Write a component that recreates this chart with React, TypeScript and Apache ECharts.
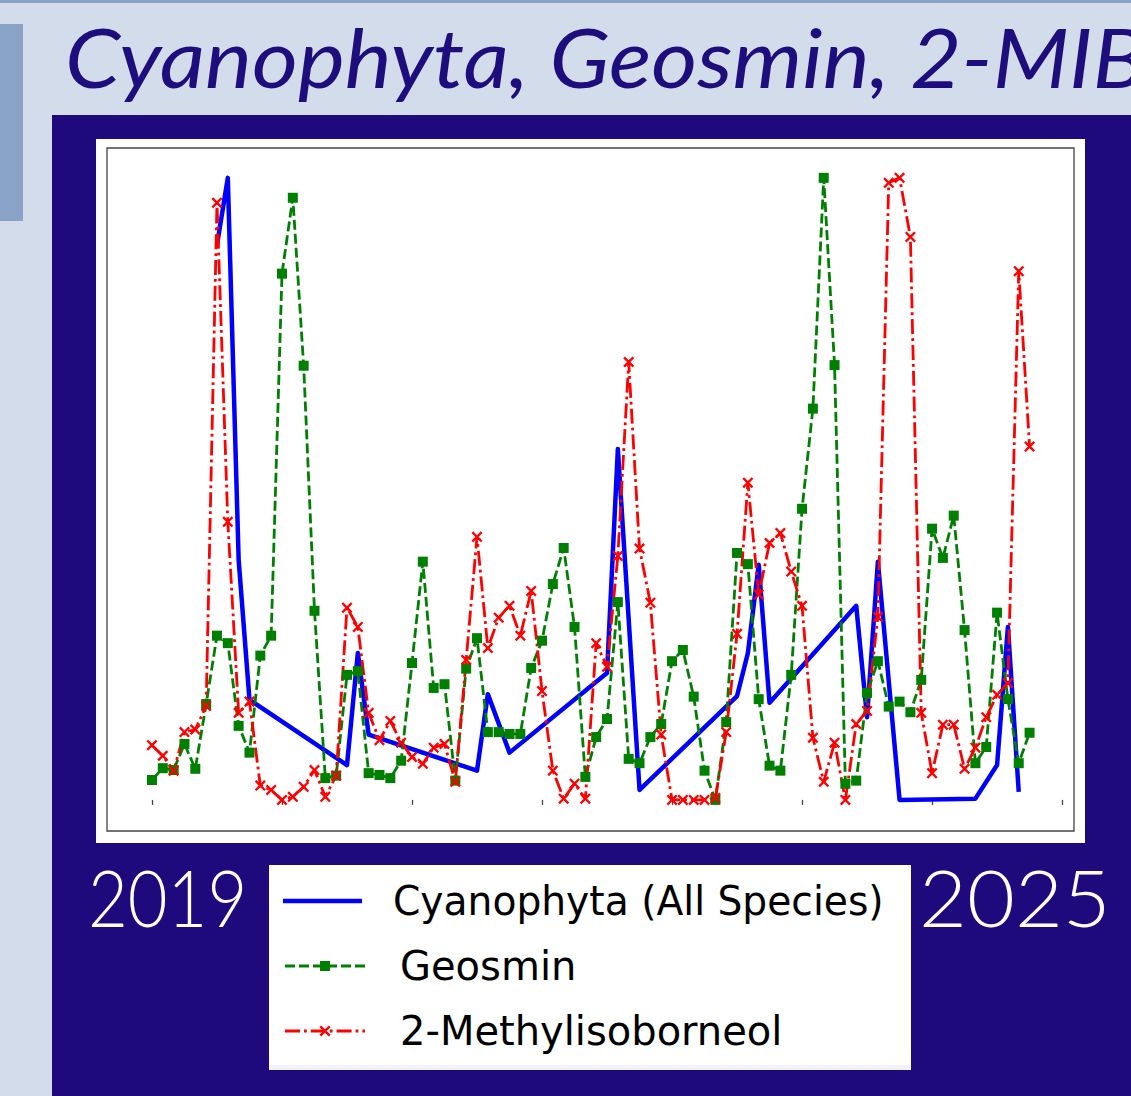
import React, { useEffect, useRef } from "react";
import * as echarts from "echarts";

// x = months since January 2019 (0 = 2019-01)
const MONTHS = [
  0, 1, 2, 3, 4, 5, 6, 7, 8, 9, 10, 11, 12, 13, 14, 15, 16, 17, 18, 19, 20,
  21, 22, 23, 24, 25, 26, 27, 28, 29, 30, 31, 32, 33, 34, 35, 36, 37, 38, 39,
  40, 41, 42, 43, 44, 45, 46, 47, 48, 49, 50, 51, 52, 53, 54, 55, 56, 57, 58,
  59, 60, 61, 62, 63, 64, 65, 66, 67, 68, 69, 70, 71, 72, 73, 74, 75, 76, 77,
  78, 79, 80, 81,
];

// Normalised Geosmin (monthly)
const GEOSMIN = [
  0.032, 0.051, 0.048, 0.09, 0.05, 0.154, 0.264, 0.252, 0.119, 0.076, 0.232,
  0.264, 0.846, 0.968, 0.698, 0.304, 0.035, 0.039, 0.201, 0.207, 0.043, 0.04,
  0.035, 0.063, 0.22, 0.383, 0.18, 0.186, 0.031, 0.211, 0.26, 0.109, 0.109,
  0.106, 0.106, 0.212, 0.256, 0.347, 0.405, 0.278, 0.037, 0.101, 0.13, 0.318,
  0.066, 0.059, 0.101, 0.122, 0.223, 0.241, 0.166, 0.047, 0.0, 0.125, 0.397,
  0.379, 0.162, 0.055, 0.047, 0.201, 0.468, 0.629, 1.0, 0.699, 0.026, 0.031,
  0.172, 0.223, 0.15, 0.158, 0.141, 0.193, 0.436, 0.389, 0.457, 0.273, 0.059,
  0.085, 0.301, 0.162, 0.059, 0.108,
];

// Normalised 2-Methylisoborneol (monthly)
const MIB = [
  0.088, 0.071, 0.047, 0.109, 0.113, 0.151, 0.96, 0.447, 0.14, 0.158, 0.023,
  0.016, 0.0, 0.005, 0.021, 0.048, 0.005, 0.039, 0.309, 0.278, 0.14, 0.096,
  0.127, 0.092, 0.069, 0.058, 0.084, 0.09, 0.029, 0.225, 0.423, 0.244, 0.293,
  0.312, 0.264, 0.336, 0.175, 0.047, 0.002, 0.026, 0.002, 0.252, 0.214, 0.392,
  0.704, 0.404, 0.317, 0.105, 0.0, 0.0, 0.0, 0.0, 0.003, 0.109, 0.267, 0.51,
  0.33, 0.413, 0.429, 0.367, 0.312, 0.1, 0.029, 0.092, 0.0, 0.122, 0.143,
  0.294, 0.992, 1.0, 0.905, 0.14, 0.043, 0.121, 0.121, 0.05, 0.084, 0.133,
  0.169, 0.188, 0.85, 0.568,
];

// Normalised Cyanophyta (All Species), sampled irregularly
const CYANO_MONTHS = [
  6, 7, 8, 9, 18, 19, 20, 30, 31, 33, 42, 43, 45, 54, 55, 56, 57, 65, 66, 67,
  69, 76, 78, 79, 80,
];
const CYANO = [
  0.892, 1.0, 0.386, 0.161, 0.056, 0.236, 0.105, 0.047, 0.17, 0.076, 0.204,
  0.564, 0.016, 0.167, 0.236, 0.378, 0.156, 0.312, 0.133, 0.383, 0.0, 0.002,
  0.056, 0.278, 0.013,
];

const YEAR_TICKS = [0, 12, 24, 36, 48, 60, 72, 84];
const START_YEAR_LABEL = "2019";
const END_YEAR_LABEL = "2025";
const TITLE = "Cyanophyta, Geosmin, 2-MIB";
const LEGEND_NAMES = ["Cyanophyta (All Species)", "Geosmin", "2-Methylisoborneol"];

const X_SYMBOL =
  "path://M1.5,0L5,3.5L8.5,0L10,1.5L6.5,5L10,8.5L8.5,10L5,6.5L1.5,10L0,8.5L3.5,5L0,1.5Z";

function xPoly(cx: number, cy: number, s: number) {
  const p = [
    [1.5, 0], [5, 3.5], [8.5, 0], [10, 1.5], [6.5, 5], [10, 8.5],
    [8.5, 10], [5, 6.5], [1.5, 10], [0, 8.5], [3.5, 5], [0, 1.5],
  ];
  return p.map(([a, b]) => [cx - s / 2 + (a * s) / 10, cy - s / 2 + (b * s) / 10]);
}

export default function App() {
  const ref = useRef<HTMLDivElement>(null);
  useEffect(() => {
    if (!ref.current) return;
    const chart = echarts.init(ref.current, undefined, { renderer: "svg" });
    const navy = "#1e0a7c";
    const legendFont = '40px "DejaVu Sans"';
    const option: any = {
      animation: false,
      backgroundColor: "#d3dcea",
      grid: {
        left: 107,
        top: 148,
        width: 967,
        height: 683,
        show: true,
        borderColor: "#444",
        borderWidth: 1.3,
        backgroundColor: "transparent",
      },
      xAxis: {
        type: "value",
        min: -4.15,
        max: 85.1,
        axisLine: { show: false },
        axisTick: {
          show: true,
          inside: false,
          length: 5,
          lineStyle: { color: "#444", width: 1.3 },
          customValues: YEAR_TICKS,
        },
        axisLabel: { show: false, customValues: YEAR_TICKS },
        splitLine: { show: false },
      },
      yAxis: {
        type: "value",
        min: -0.05,
        max: 1.048,
        axisLine: { show: false },
        axisTick: { show: false },
        axisLabel: { show: false },
        splitLine: { show: false },
      },
      series: [
        {
          name: LEGEND_NAMES[0],
          type: "line",
          data: CYANO_MONTHS.map((m, i) => [m, CYANO[i]]),
          symbol: "none",
          lineStyle: { color: "#0000ff", width: 4.5, join: "round" },
          silent: true,
        },
        {
          name: LEGEND_NAMES[1],
          type: "line",
          data: MONTHS.map((m, i) => [m, GEOSMIN[i]]),
          symbol: "rect",
          symbolSize: 10,
          itemStyle: { color: "#008000", borderWidth: 0 },
          lineStyle: { color: "#008000", width: 2.8, type: [10, 4] },
          silent: true,
        },
        {
          name: LEGEND_NAMES[2],
          type: "line",
          data: MONTHS.map((m, i) => [m, MIB[i]]),
          symbol: X_SYMBOL,
          symbolSize: 11,
          itemStyle: { color: "#ff0000", borderWidth: 0 },
          lineStyle: { color: "#ff0000", width: 2.8, type: [15, 4, 2.8, 4] },
          silent: true,
        },
      ],
      graphic: {
        elements: [
          { type: "rect", z: -10, shape: { x: 0, y: 0, width: 1131, height: 3 }, style: { fill: "#8aa4c8" } },
          { type: "rect", z: -10, shape: { x: 0, y: 24, width: 23, height: 197 }, style: { fill: "#88a3c7" } },
          {
            type: "text", z: 5, x: 65, y: 56, scaleX: 1.08,
            style: {
              text: TITLE, font: 'italic 400 82px Lato', fill: "#1e0d7c",
              verticalAlign: "middle", align: "left",
            },
          },
          { type: "rect", z: -10, shape: { x: 52, y: 115, width: 1079, height: 981 }, style: { fill: navy } },
          { type: "rect", z: -9, shape: { x: 96, y: 139, width: 989, height: 704 }, style: { fill: "#ffffff" } },
          {
            type: "text", z: 5, x: 88, y: 897, scaleX: 0.88,
            style: { text: START_YEAR_LABEL, font: '300 78px Lato', fill: "#ffffff", verticalAlign: "middle" },
          },
          {
            type: "text", z: 5, x: 919, y: 897, scaleX: 1.06,
            style: { text: END_YEAR_LABEL, font: '300 78px Lato', fill: "#ffffff", verticalAlign: "middle" },
          },
          // legend box
          { type: "rect", z: 5, shape: { x: 269, y: 865, width: 642, height: 205 }, style: { fill: "#ffffff" } },
          { type: "rect", z: 5, shape: { x: 269, y: 1065, width: 642, height: 5 }, style: { fill: "#f3f3f3" } },
          { type: "line", z: 6, shape: { x1: 283, y1: 901, x2: 362, y2: 901 }, style: { stroke: "#0000ff", lineWidth: 4.5 } },
          { type: "text", z: 6, x: 393, y: 901, scaleX: 0.98, style: { text: LEGEND_NAMES[0], font: legendFont, fill: "#000", verticalAlign: "middle" } },
          { type: "line", z: 6, shape: { x1: 285, y1: 966, x2: 365, y2: 966 }, style: { stroke: "#008000", lineWidth: 2.8, lineDash: [10, 4] } },
          { type: "rect", z: 7, shape: { x: 320, y: 961, width: 10, height: 10 }, style: { fill: "#008000" } },
          { type: "text", z: 6, x: 400, y: 966, style: { text: LEGEND_NAMES[1], font: legendFont, fill: "#000", verticalAlign: "middle" } },
          { type: "line", z: 6, shape: { x1: 285, y1: 1031, x2: 365, y2: 1031 }, style: { stroke: "#ff0000", lineWidth: 2.8, lineDash: [15, 4, 2.8, 4] } },
          { type: "polygon", z: 7, shape: { points: xPoly(325, 1031, 11) }, style: { fill: "#ff0000" } },
          { type: "text", z: 6, x: 400, y: 1031, style: { text: LEGEND_NAMES[2], font: legendFont, fill: "#000", verticalAlign: "middle" } },
        ],
      },
    };
    chart.setOption(option);
    return () => chart.dispose();
  }, []);
  return (
    <div
      ref={ref}
      style={{ position: "absolute", left: 0, top: 0, width: 1131, height: 1096 }}
    />
  );
}
